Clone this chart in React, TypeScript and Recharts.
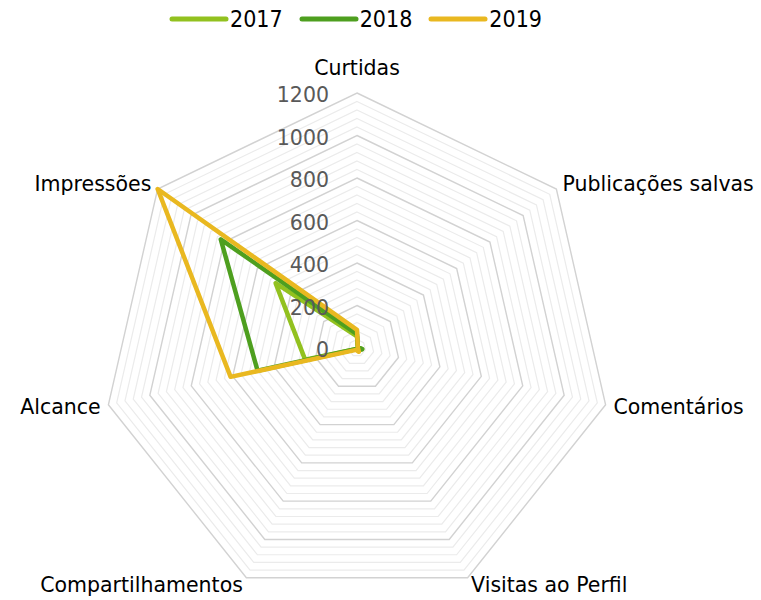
import React from "react";
import { RadarChart, Radar, PolarGrid, PolarAngleAxis, PolarRadiusAxis, Legend } from "recharts";

const categories = ["Curtidas", "Publicações salvas", "Comentários", "Visitas ao Perfil", "Compartilhamentos", "Alcance", "Impressões"];
const values2017 = [55, 5, 25, 10, 5, 250, 490];
const values2018 = [65, 5, 25, 10, 5, 480, 820];
const values2019 = [85, 5, 5, 20, 10, 610, 1200];
const radiusTicks = [0, 200, 400, 600, 800, 1000, 1200];
const minorTicks = [40, 80, 120, 160, 240, 280, 320, 360, 440, 480, 520, 560, 640, 680, 720, 760, 840, 880, 920, 960, 1040, 1080, 1120, 1160];
const seriesNames = ["2017", "2018", "2019"];
const seriesColors = ["#92C11F", "#4E9F1F", "#E9B820"];

const data = categories.map((c, i) => ({
  name: c,
  "2017": values2017[i],
  "2018": values2018[i],
  "2019": values2019[i],
}));

const MAX = 1200;
const CX = 357;
const CY = 348;
const R = 255;
const FONT = "'DejaVu Sans', sans-serif";

const AngleTick = (props: any) => {
  const { x, y, cx, payload, textAnchor } = props;
  const isTop = Math.abs(x - cx) < 2;
  return (
    <text x={x} y={isTop ? y - 17 : y} textAnchor={isTop ? "middle" : textAnchor} dominantBaseline="central"
      fontSize={20.5} fontFamily={FONT} fill="#000">
      {payload.value}
    </text>
  );
};

const RadiusTick = (props: any) => {
  const { x, y, payload } = props;
  return (
    <text x={x - 28} y={y + 2} textAnchor="end" dominantBaseline="central" fontSize={20.5} fontFamily={FONT} fill="#595959">
      {payload.value}
    </text>
  );
};

const LegendContent = (props: any) => {
  const { payload } = props;
  return (
    <div style={{ display: "flex", justifyContent: "flex-start", alignItems: "center", paddingLeft: 169, gap: 16, fontFamily: "'Liberation Sans Narrow', 'DejaVu Sans Condensed', sans-serif", fontSize: 23, color: "#000" }}>
      {(payload || []).map((p: any) => (
        <div key={p.value} style={{ display: "flex", alignItems: "center" }}>
          <svg width={60} height={10} style={{ marginRight: 1 }}>
            <line x1={3} y1={5} x2={57} y2={5} stroke={p.color} strokeWidth={5} strokeLinecap="round" />
          </svg>
          <span>{p.value}</span>
        </div>
      ))}
    </div>
  );
};

export default function App() {
  return (
    <div style={{ position: "absolute", left: 0, top: 0, width: 761, height: 600, background: "#fff" }}>
      <RadarChart width={761} height={600} data={data} cx={CX} cy={CY} outerRadius={R} margin={{ top: 0, right: 0, bottom: 0, left: 0 }}>
        <PolarGrid gridType="polygon" radialLines={false} polarRadius={minorTicks.map((v) => (v / MAX) * R)} stroke="#EBEBEB" strokeWidth={1.2} />
        <PolarGrid gridType="polygon" radialLines={false} polarRadius={radiusTicks.slice(1).map((v) => (v / MAX) * R)} stroke="#D2D2D2" strokeWidth={1.4} />
        <PolarAngleAxis dataKey="name" tick={<AngleTick />} tickLine={false} axisLine={false} />
        <PolarRadiusAxis angle={90} domain={[0, MAX]} ticks={radiusTicks as any} tick={<RadiusTick />} axisLine={false} tickLine={false} />
        {seriesNames.map((s, i) => (
          <Radar key={s} name={s} dataKey={s} stroke={seriesColors[i]} strokeWidth={4.5} fill="none" fillOpacity={0} isAnimationActive={false} dot={false} strokeLinejoin="round" />
        ))}
        <Legend verticalAlign="top" content={<LegendContent />} wrapperStyle={{ top: 6, left: 0, width: 761 }} />
      </RadarChart>
    </div>
  );
}
